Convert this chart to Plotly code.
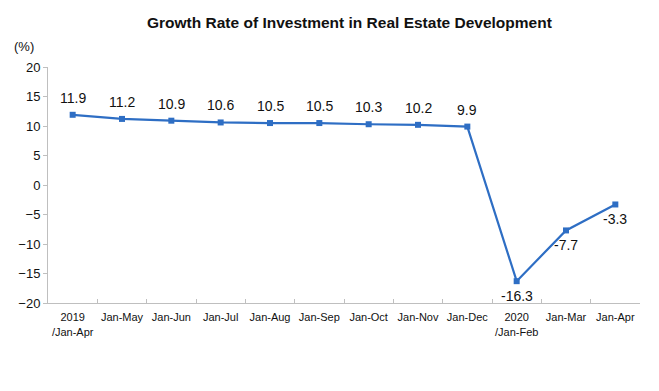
import plotly.graph_objects as go

categories = ["2019<br>/Jan-Apr", "Jan-May", "Jan-Jun", "Jan-Jul", "Jan-Aug", "Jan-Sep",
              "Jan-Oct", "Jan-Nov", "Jan-Dec", "2020<br>/Jan-Feb", "Jan-Mar", "Jan-Apr"]
values = [11.9, 11.2, 10.9, 10.6, 10.5, 10.5, 10.3, 10.2, 9.9, -16.3, -7.7, -3.3]
label_above = [True] * 9 + [False] * 3
y_ticks = [20, 15, 10, 5, 0, -5, -10, -15, -20]

FONT = "Liberation Sans, Arial"
COLOR = "#2E6EC4"

fig = go.Figure()
fig.add_trace(go.Scatter(
    x=categories, y=values,
    mode="lines+markers",
    line=dict(color=COLOR, width=2.2),
    marker=dict(symbol="square", size=6, color=COLOR),
    cliponaxis=False,
    showlegend=False,
    hoverinfo="skip",
))

annotations = []
for c, v, above in zip(categories, values, label_above):
    annotations.append(dict(
        x=c, y=v, xref="x", yref="y", text=f"{v:.1f}", showarrow=False,
        xanchor="center", yanchor="middle", yshift=17 if above else -15,
        font=dict(family=FONT, size=14, color="#111111")))

annotations.append(dict(text="(%)", xref="paper", yref="paper", x=-0.04, y=1.085,
                        xanchor="center", yanchor="middle", showarrow=False,
                        font=dict(family=FONT, size=13, color="#111111")))
annotations.append(dict(text="<b>Growth Rate of Investment in Real Estate Development</b>",
                        xref="paper", yref="paper", x=0.51, y=1.19,
                        xanchor="center", yanchor="middle", showarrow=False,
                        font=dict(family=FONT, size=15.5, color="#111111")))

fig.update_layout(
    width=659, height=391,
    margin=dict(l=48, r=19, t=67, b=88),
    paper_bgcolor="white", plot_bgcolor="white",
    xaxis=dict(
        type="category", tickson="boundaries", automargin=False, tickangle=0,
        range=[-0.5, len(categories) - 0.5],
        showline=True, linecolor="#BFBFBF", linewidth=1,
        ticks="inside", ticklen=4, tickcolor="#BFBFBF",
        showgrid=False, zeroline=False, ticklabelstandoff=4,
        tickfont=dict(family=FONT, size=11, color="#111111"),
    ),
    yaxis=dict(
        range=[-20, 20], tickvals=y_ticks, automargin=False,
        showline=True, linecolor="#BFBFBF", linewidth=1,
        ticks="outside", ticklen=4, tickcolor="#BFBFBF",
        showgrid=False, zeroline=False,
        tickfont=dict(family=FONT, size=13, color="#111111"),
    ),
    annotations=annotations,
)

fig.write_html("out.html", config={"displayModeBar": False},
               post_script="document.body.style.margin='0';")
